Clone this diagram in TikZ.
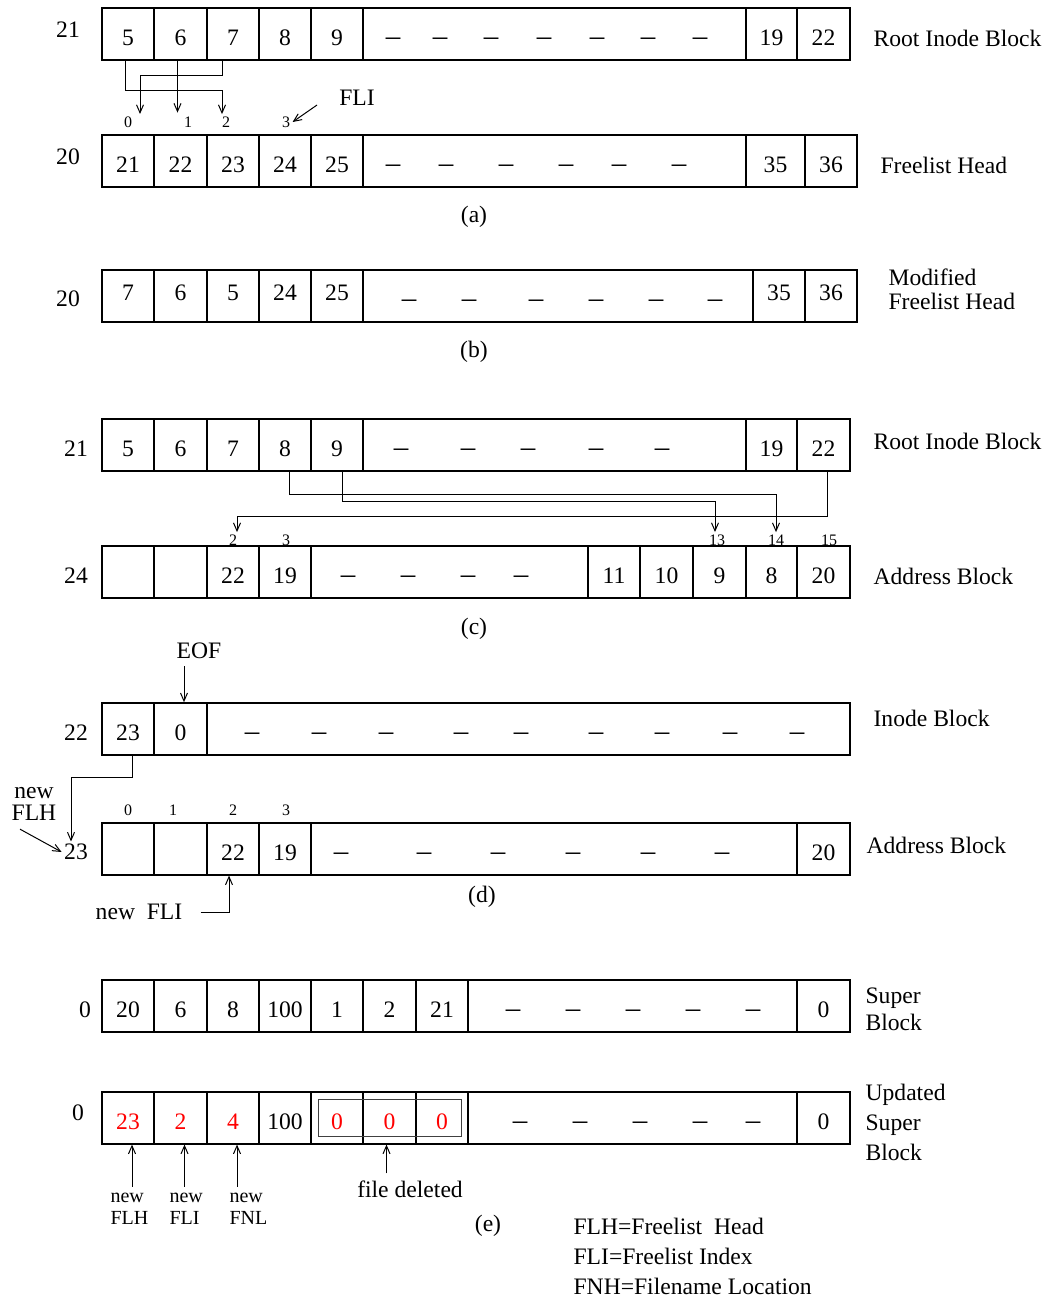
\documentclass[tikz,border=0pt]{standalone}
\usepackage{fontspec}
\setmainfont{Liberation Serif}
\usetikzlibrary{arrows.meta}

\begin{document}
\begin{tikzpicture}[x=0.5pt, y=-0.5pt, line width=0.6pt, font=\fontsize{11.8}{14}\selectfont,
  cell/.style={draw, inner sep=0pt, minimum height=26pt, text height=11.5pt, text depth=0pt},
  gapdash/.style={inner sep=0pt, yshift=-2pt, font=\fontsize{14.5}{15}\selectfont},
  rowlbl/.style={inner sep=1pt},
  side/.style={anchor=west, align=left, inner sep=0pt},
  idx/.style={font=\fontsize{8}{9}\selectfont, inner sep=1pt},
  small/.style={font=\fontsize{10}{11}\selectfont, anchor=west, align=left, inner sep=0pt},
  ptr/.style={-{Straight Barb[length=4pt,width=3.5pt]}, line width=0.5pt}]
\useasboundingbox (0,0) rectangle (1051,1300);

% (a) root inode block and freelist head
\foreach \nm/\xl/\xr/\txt in {a1/102/154/5, a2/154/207/6, a3/207/259/7, a4/259/311/8, a5/311/363/9, a6/363/746/{}, a7/746/797/19, a8/797/850/22}
  \node[cell, minimum width={(\xr-\xl)*0.5pt}] (\nm) at ({(\xl+\xr)/2},34) {\txt};
\foreach \x [count=\k] in {393,440,491,544,597,648,700}
  \node[gapdash] (ad\k) at (\x,38) {--};
\node[rowlbl] (la) at (68,30) {21};
\node[side] (sa) at (873,38) {Root Inode Block};

\foreach \nm/\xl/\xr/\txt in {f1/102/154/21, f2/154/207/22, f3/207/259/23, f4/259/311/24, f5/311/363/25, f6/363/746/{}, f7/746/805/35, f8/805/857/36}
  \node[cell, minimum width={(\xr-\xl)*0.5pt}] (\nm) at ({(\xl+\xr)/2},161) {\txt};
\foreach \x [count=\k] in {393,446,506,566,619,679}
  \node[gapdash] (fd\k) at (\x,165) {--};
\node[rowlbl] (lf) at (68,157) {20};
\node[side] (sf) at (880,165) {Freelist Head};

\node[idx] (x0) at (128,122) {0};
\node[idx] (x1) at (188,122) {1};
\node[idx] (x2) at (226,122) {2};
\node[idx] (x3) at (286,122) {3};
\node (fli) at (357,98) {FLI};
\draw[ptr] ([xshift=-1.5pt]a1.south) -- ++(0,30) -| ([xshift=-2pt]x2.north);
\draw[ptr] ([xshift=-1.5pt]a2.south) -- ++(0,52);
\draw[ptr] ([xshift=-5.5pt]a3.south) -- ++(0,15) -| ([xshift=6pt]x0.north);
\draw[ptr] ([xshift=-7.5pt,yshift=-3.5pt]fli.west) -- (x3.east);
\node (capa) at (474,217) {(a)};

% (b) modified freelist head
\foreach \nm/\xl/\xr/\txt in {m1/102/154/7, m2/154/207/6, m3/207/259/5, m4/259/311/24, m5/311/363/25, m6/363/753/{}, m7/753/805/35, m8/805/857/36}
  \node[cell, text height=4.5pt, minimum width={(\xr-\xl)*0.5pt}] (\nm) at ({(\xl+\xr)/2},296) {\txt};
\foreach \x [count=\k] in {409,469,536,596,656,715}
  \node[gapdash] (md\k) at (\x,300) {--};
\node[rowlbl] (lm) at (68,299) {20};
\node[side, font=\fontsize{11.8}{12}\selectfont] (sm) at (888,289) {Modified\\Freelist Head};
\node (capb) at (474,352) {(b)};

% (c) root inode block and address block
\foreach \nm/\xl/\xr/\txt in {r1/102/154/5, r2/154/207/6, r3/207/259/7, r4/259/311/8, r5/311/363/9, r6/363/746/{}, r7/746/797/19, r8/797/850/22}
  \node[cell, minimum width={(\xr-\xl)*0.5pt}] (\nm) at ({(\xl+\xr)/2},445) {\txt};
\foreach \x [count=\k] in {401,468,528,596,662}
  \node[gapdash] (rd\k) at (\x,449) {--};
\node[rowlbl] (lr) at (76,449) {21};
\node[side] (sr) at (873,441) {Root Inode Block};

\foreach \nm/\xl/\xr/\txt in {b1/102/154/{}, b2/154/207/{}, b3/207/259/22, b4/259/311/19, b5/311/588/{}, b6/588/640/11, b7/640/693/10, b8/693/746/9, b9/746/797/8, b10/797/850/20}
  \node[cell, minimum width={(\xr-\xl)*0.5pt}] (\nm) at ({(\xl+\xr)/2},572) {\txt};
\foreach \x [count=\k] in {348,408,468,521}
  \node[gapdash] (bd\k) at (\x,576) {--};
\node[rowlbl] (lb) at (76,576) {24};
\node[side] (sb) at (873,576) {Address Block};

\node[idx] (c2) at (233,540) {2};
\node[idx] (c3) at (286,540) {3};
\node[idx] (c13) at (717,540) {13};
\node[idx] (c14) at (776,540) {14};
\node[idx] (c15) at (829,540) {15};
\draw[ptr] ([xshift=2pt]r4.south) -- ++(0,23) -| (c14.north);
\draw[ptr] ([xshift=2.5pt]r5.south) -- ++(0,30) -| ([xshift=-1pt]c13.north);
\draw[ptr] ([xshift=2pt]r8.south) -- ++(0,45) -| ([xshift=2pt]c2.north);
\node (capc) at (474,629) {(c)};

% (d) inode block and address block
\foreach \nm/\xl/\xr/\txt in {i1/102/154/23, i2/154/207/0, i3/207/850/{}}
  \node[cell, minimum width={(\xr-\xl)*0.5pt}] (\nm) at ({(\xl+\xr)/2},729) {\txt};
\foreach \x [count=\k] in {252,319,386,461,521,596,662,730,797}
  \node[gapdash] (id\k) at (\x,733) {--};
\node[rowlbl] (li) at (76,733) {22};
\node[side] (si) at (873,718) {Inode Block};
\node (eof) at (199,651) {EOF};
\draw[ptr] ([xshift=-7.5pt]eof.south) -- ++(0,36);

\foreach \nm/\xl/\xr/\txt in {q1/102/154/{}, q2/154/207/{}, q3/207/259/22, q4/259/311/19, q5/311/797/{}, q6/797/850/20}
  \node[cell, minimum width={(\xr-\xl)*0.5pt}] (\nm) at ({(\xl+\xr)/2},849) {\txt};
\foreach \x [count=\k] in {341,424,498,573,648,722}
  \node[gapdash] (qd\k) at (\x,853) {--};
\node[rowlbl] (lq) at (76,852) {23};
\node[side] (sq) at (866,845) {Address Block};

\node[idx] (d0) at (128,810) {0};
\node[idx] (d1) at (173,810) {1};
\node[idx] (d2) at (233,810) {2};
\node[idx] (d3) at (286,810) {3};
\node[align=center, inner sep=0pt, font=\fontsize{11.8}{11}\selectfont] (nflh) at (34,804) {new\\FLH};
\node (nfli) at (139,912) {new~ FLI};
\draw[ptr] ([xshift=2pt]i1.south) -- ++(0,22) -| ([xshift=-2.5pt]lq.north);
\draw[ptr] ([xshift=-7pt,yshift=-4pt]nflh.south) -- (lq.west);
\draw[ptr] ([xshift=5.5pt]nfli.east) -| ([xshift=-2pt]q3.south);
\node (capd) at (482,897) {(d)};

% (e) super block and updated super block
\foreach \nm/\xl/\xr/\txt in {s1/102/154/20, s2/154/207/6, s3/207/259/8, s4/259/311/100, s5/311/363/1, s6/363/416/2, s7/416/468/21, s8/468/797/{}, s9/797/850/0}
  \node[cell, minimum width={(\xr-\xl)*0.5pt}] (\nm) at ({(\xl+\xr)/2},1006) {\txt};
\foreach \x [count=\k] in {513,573,633,693,753}
  \node[gapdash] (sd\k) at (\x,1010) {--};
\node[rowlbl] (ls) at (85,1010) {0};
\node[side, font=\fontsize{11.8}{13.5}\selectfont] (ss) at (865,1009) {Super\\Block};

\foreach \nm/\xl/\xr/\txt in {u1/102/154/{\textcolor{red}{23}}, u2/154/207/{\textcolor{red}{2}}, u3/207/259/{\textcolor{red}{4}}, u4/259/311/100, u5/311/363/{\textcolor{red}{0}}, u6/363/416/{\textcolor{red}{0}}, u7/416/468/{\textcolor{red}{0}}, u8/468/797/{}, u9/797/850/0}
  \node[cell, minimum width={(\xr-\xl)*0.5pt}] (\nm) at ({(\xl+\xr)/2},1118) {\txt};
\foreach \x [count=\k] in {520,580,640,700,753}
  \node[gapdash] (ud\k) at (\x,1122) {--};
\draw[black!75] ([shift={(4pt,-4pt)}]u5.north west) rectangle ([shift={(-3.5pt,4pt)}]u7.south east);
\node[rowlbl] (lu) at (78,1113) {0};
\node[side, font=\fontsize{11.8}{15}\selectfont] (su) at (865,1122) {Updated\\Super\\Block};

\node[small] (eflh) at (110,1209) {new\\FLH};
\node[small] (efli) at (169,1209) {new\\FLI};
\node[small] (efnl) at (229,1209) {new\\FNL};
\node (fdel) at (410,1189) {file deleted};
\draw[ptr] ([xshift=2pt]u1.south |- eflh.north) ++(0,-6) -- ([xshift=2pt]u1.south);
\draw[ptr] ([xshift=2pt]u2.south |- efli.north) ++(0,-6) -- ([xshift=2pt]u2.south);
\draw[ptr] ([xshift=2pt]u3.south |- efnl.north) ++(0,-6) -- ([xshift=2pt]u3.south);
\draw[ptr] ([xshift=-1.5pt]u6.south |- fdel.north) -- ([xshift=-1.5pt]u6.south);
\node (cape) at (488,1226) {(e)};
\node[side, font=\fontsize{11.8}{15}\selectfont] (legend) at (573,1256) {FLH=Freelist~ Head\\FLI=Freelist Index\\FNH=Filename Location};
\end{tikzpicture}
\end{document}
